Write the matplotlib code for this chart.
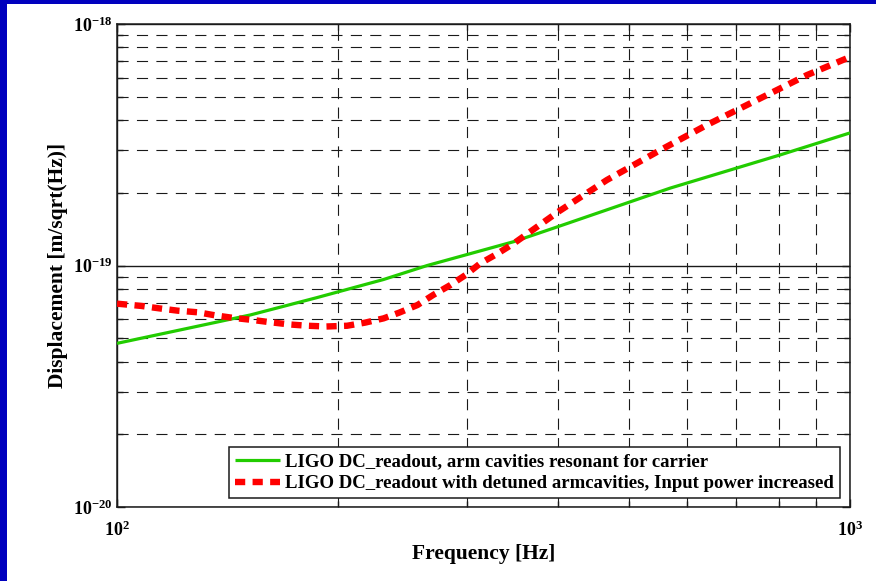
import matplotlib
matplotlib.use('Agg')
import matplotlib.pyplot as plt
from matplotlib.ticker import LogLocator, NullFormatter, FixedLocator
from matplotlib.patches import Rectangle

# ---------------- data ----------------
freq_green = [100, 123, 152, 187, 231, 265, 348, 400, 568, 803, 1000]
disp_green = [4.76e-20, 5.44e-20, 6.24e-20, 7.35e-20, 8.75e-20, 1.0e-19,
              1.256e-19, 1.45e-19, 2.09e-19, 2.87e-19, 3.54e-19]

freq_red = [100, 108, 114, 121, 129, 136, 144, 153, 162, 172, 182, 193, 206,
            218, 231, 243, 257, 270, 285, 299, 313, 330, 348, 400, 466, 545,
            638, 746, 874, 1000]
disp_red = [6.95e-20, 6.8e-20, 6.65e-20, 6.5e-20, 6.4e-20, 6.22e-20, 6.07e-20,
            5.95e-20, 5.82e-20, 5.7e-20, 5.63e-20, 5.59e-20, 5.63e-20, 5.8e-20,
            6.04e-20, 6.39e-20, 6.86e-20, 7.55e-20, 8.3e-20, 9.14e-20, 1.02e-19,
            1.117e-19, 1.236e-19, 1.67e-19, 2.26e-19, 2.95e-19, 3.82e-19,
            4.84e-19, 6.15e-19, 7.3e-19]

label_green = "LIGO DC_readout, arm cavities resonant for carrier"
label_red = "LIGO DC_readout with detuned armcavities, Input power increased"
xlabel = "Frequency [Hz]"
ylabel = "Displacement [m/sqrt(Hz)]"

# ---------------- style ----------------
plt.rcParams['font.family'] = ['Liberation Serif', 'DejaVu Serif']
plt.rcParams['font.weight'] = 'bold'
plt.rcParams['mathtext.fontset'] = 'custom'
plt.rcParams['mathtext.rm'] = 'Liberation Serif:bold'
plt.rcParams['mathtext.it'] = 'Liberation Serif:italic:bold'
plt.rcParams['mathtext.bf'] = 'Liberation Serif:bold'

W, H = 876, 581
fig = plt.figure(figsize=(W / 100, H / 100), dpi=100)
fig.patch.set_facecolor('white')

# blue slide border (left and top)
blue = '#0000BE'
fig.patches.append(Rectangle((0, 0), 7 / W, 1, transform=fig.transFigure,
                             facecolor=blue, edgecolor='none', zorder=-1))
fig.patches.append(Rectangle((0, 1 - 4 / H), 1, 4 / H, transform=fig.transFigure,
                             facecolor=blue, edgecolor='none', zorder=-1))

L, R, T, B = 117, 850, 24, 507
ax = fig.add_axes([L / W, 1 - B / H, (R - L) / W, (B - T) / H])
ax.set_xscale('log')
ax.set_yscale('log')
ax.set_xlim(100, 1000)
ax.set_ylim(1e-20, 1e-18)

ax.plot(freq_green, disp_green, color='#22CC00', lw=2.3, label=label_green,
        solid_capstyle='butt', zorder=3)
ax.plot(freq_red, disp_red, color='#FF0000', lw=4.6, linestyle=(0, (1.6, 1.15)),
        label=label_red, dash_capstyle='butt', zorder=4)

ax.xaxis.set_major_locator(FixedLocator([100, 1000]))
ax.xaxis.set_minor_locator(LogLocator(base=10, subs=range(2, 10)))
ax.yaxis.set_major_locator(FixedLocator([1e-20, 1e-19, 1e-18]))
ax.yaxis.set_minor_locator(LogLocator(base=10, subs=range(2, 10), numticks=20))
ax.xaxis.set_minor_formatter(NullFormatter())
ax.yaxis.set_minor_formatter(NullFormatter())

gridcol = '#1a1a1a'
ax.grid(which='major', color=gridcol, lw=1.0, linestyle='-')
ax.grid(which='minor', color=gridcol, lw=0.8, linestyle=(0, (10, 7.5)))

for s in ax.spines.values():
    s.set_linewidth(1.1)
    s.set_color('#1a1a1a')

ax.tick_params(which='both', direction='in', top=True, right=True,
               color='#1a1a1a', labelsize=13)
ax.tick_params(which='major', length=6, width=1)
ax.tick_params(which='minor', length=4.5, width=1)
ax.tick_params(axis='x', which='major', pad=10)
ax.tick_params(axis='y', which='major', pad=3)

ax.set_xlabel(xlabel, fontsize=15.5, fontweight='bold', labelpad=3)
ax.set_ylabel(ylabel, fontsize=15.5, fontweight='bold', labelpad=4)

leg = ax.legend(loc='lower right', bbox_to_anchor=(1 - 10 / (R - L), 9 / (B - T)),
                borderaxespad=0, fontsize=13.5, frameon=True, fancybox=False,
                handlelength=2.4, handletextpad=0.27, labelspacing=0.25,
                borderpad=0.31)
leg.get_frame().set_edgecolor('#1a1a1a')
leg.get_frame().set_linewidth(1.1)
leg.get_frame().set_alpha(1)

fig.savefig('out.png', dpi=100, facecolor=fig.get_facecolor())
